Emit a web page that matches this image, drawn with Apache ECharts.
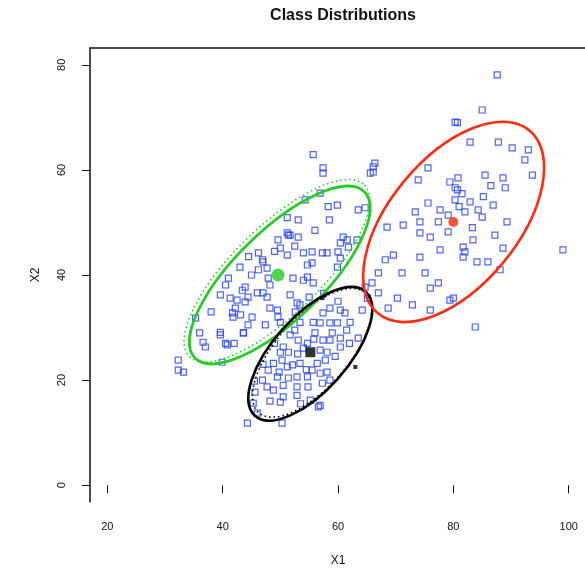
<!DOCTYPE html>
<html>
<head>
<meta charset="utf-8">
<title>Class Distributions</title>
<script src="https://cdn.jsdelivr.net/npm/echarts@6/dist/echarts.min.js"></script>
<style>
html, body { margin: 0; padding: 0; background: #fff; }
#chart { width: 585px; height: 569px; }
</style>
</head>
<body>
<div id="chart"></div>
<script>
// tick labels
var xTicks = [20, 40, 60, 80, 100];
var yTicks = [0, 20, 40, 60, 80];

var ptsGreen = [
  [51.2,48.0],[49.6,46.7],[50.0,45.1],[51.2,43.8],[46.2,44.2],[47.0,42.5],[46.2,41.0],[47.9,39.4],
  [48.2,38.1],[41.0,39.4],[40.5,38.1],[39.6,36.2],[41.3,35.6],[43.4,37.1],[44.4,35.8],[46.0,36.6],
  [43.9,34.9],[42.2,33.7],[41.7,32.8],[43.1,32.4],[45.1,32.0],[47.7,35.8],[48.2,33.7],[49.5,33.3],
  [47.4,30.5],[44.4,30.5],[43.6,29.0],[39.6,29.1],[39.6,28.6],[36.6,27.2],[37.0,26.3],[40.5,27.0],
  [40.8,26.7],[35.3,31.8],[32.3,23.8],[32.3,21.9],[33.2,21.5],[39.9,23.4],[51.4,47.6],
  [55.7,62.9],[57.4,60.4],[66.1,60.6],[56.9,55.6],[54.3,54.3],[58.3,53.0],[59.9,53.3],[63.5,52.4],
  [64.7,52.8],[51.2,50.9],[53.1,50.5],[51.7,47.6],[53.1,47.2],[54.0,44.2],[55.5,44.4],[57.3,44.2],
  [58.1,44.2],[60.4,46.1],[61.6,46.7],[60.0,44.4],[63.3,46.7],[60.9,47.2],[61.8,45.3],[54.7,41.9],
  [55.5,42.3],[46.9,42.9],[47.7,41.3],[52.2,39.4],[54.0,39.0],[54.7,39.6],[59.9,41.5],[60.4,43.2],
  [57.4,59.4],[65.6,59.4],[45.0,40.0],[43.0,41.5],[44.5,43.5],[49.0,44.5],[52.5,45.5],[56.0,48.5],
  [58.5,50.5],[38.0,33.0],[36.0,29.0],[42.0,27.0]
];
var ptsBlack = [
  [61.2,32.8],[60.4,33.3],[58.6,33.7],[57.4,32.8],[56.9,30.9],[55.7,31.0],[53.4,34.3],[52.6,33.0],
  [53.4,31.0],[58.6,30.9],[59.9,30.9],[62.1,31.0],[64.2,33.3],[65.1,35.6],[63.5,28.0],[60.4,28.0],
  [58.6,27.6],[57.4,27.6],[56.9,25.7],[58.1,25.3],[60.4,26.3],[53.1,27.6],[54.7,27.0],[54.0,26.1],
  [51.7,28.6],[50.5,26.3],[51.4,25.3],[50.0,25.3],[50.3,23.8],[48.8,23.2],[51.2,22.5],[52.1,22.9],
  [53.4,23.2],[56.4,23.2],[55.5,21.9],[56.9,21.3],[58.1,21.5],[54.7,20.6],[52.9,20.6],[51.4,20.4],
  [49.5,20.6],[47.9,21.9],[46.9,20.0],[47.7,18.7],[48.8,18.1],[50.5,19.0],[52.9,18.7],[54.8,18.7],
  [57.3,19.4],[58.6,20.0],[50.5,16.8],[50.0,15.8],[52.9,17.1],[55.2,16.2],[56.6,14.9],[45.6,17.7],
  [45.3,15.6],[46.0,13.7],[56.9,15.2],[55.7,38.5],[52.9,34.7],[50.0,31.0],[44.3,11.8],[50.3,11.8],
  [43.6,29.0],[42.5,35.2],[43.9,37.7],[47.0,36.6],[51.7,36.2],[49.6,32.0],[41.8,32.0],[64.7,37.7],
  [65.9,38.5],[53.0,25.0],[55.8,27.8],[57.8,23.8],[49.0,27.0],[52.5,29.5],[56.0,29.0],[59.0,29.0],
  [61.5,29.5],[54.5,22.0],[49.8,21.5],[47.0,23.0],[45.5,19.8],[48.2,16.0],[53.5,15.5],[59.5,24.5],
  [62.0,27.0],[55.0,35.8],[57.5,36.5],[60.0,35.0]
];
var ptsRed = [
  [87.6,78.1],[85.0,71.4],[80.3,69.1],[82.9,65.3],[87.8,65.3],[90.2,64.2],[93.0,63.8],[92.4,61.9],
  [93.7,59.0],[85.5,59.0],[88.6,58.5],[89.0,56.6],[80.3,56.6],[80.3,54.3],[82.9,53.9],[85.2,54.9],
  [86.9,53.3],[84.3,52.4],[85.0,51.0],[89.3,50.1],[83.3,49.0],[83.4,46.7],[87.2,47.6],[88.6,45.1],
  [82.0,44.4],[81.7,43.4],[84.1,42.5],[86.0,42.5],[88.1,41.0],[99.0,44.8],[80.0,35.6],[83.8,30.1],
  [80.7,69.0],[66.1,59.6],[75.6,60.4],[73.9,58.1],[79.4,57.7],[80.7,56.2],[75.6,53.7],[77.7,52.4],
  [73.4,52.0],[74.2,50.1],[79.1,51.4],[71.3,49.5],[68.5,49.1],[77.4,50.1],[74.2,48.0],[76.0,47.2],
  [79.1,48.2],[81.7,45.3],[77.7,44.8],[69.6,43.8],[74.2,43.4],[68.2,42.9],[71.1,40.4],[75.1,40.4],
  [67.0,40.4],[77.4,38.5],[76.0,37.5],[79.4,35.2],[72.9,34.3],[70.3,35.6],[67.0,36.6],[68.7,33.7],
  [76.0,33.3],[66.4,61.3],[81.0,53.0],[82.0,52.0],[81.5,55.5],[80.8,58.5],[86.5,57.0]
];

// class means
var meanGreen = [[49.6, 40.0]];
var meanBlack = [[55.2, 25.3]];
var meanRed = [[80.0, 50.1]];
var extraDots = [[57.3, 35.6], [63.0, 22.5]];

// ellipses: [centre, end of major semi-axis, end of minor semi-axis]
var ellGreen = [[49.9, 40.0], [64.6, 55.8], [55.3, 34.0]];
var ellGreenTrue = [[49.4, 40.8], [64.6, 57.1], [54.7, 34.8]];
var ellBlack = [[55.2, 25.0], [64.8, 36.8], [60.0, 20.3]];
var ellBlackTrue = [[55.5, 25.2], [64.75, 36.6], [60.1, 20.7]];
var ellRed = [[80.05, 50.1], [93.2, 67.5], [88.6, 42.3]];

var font = 'Liberation Sans';
var ink = '#111';
var blue = '#1f3cff';

function pts(data) {
  return {
    type: 'scatter', data: data, symbol: 'rect', symbolSize: 6,
    itemStyle: { color: 'rgba(0,0,0,0)', borderColor: blue, borderWidth: 1.2 },
    silent: true, z: 2
  };
}

// outline drawn as four cubic arcs through the axis scales
function ell(e, color, dotted) {
  return {
    type: 'custom', silent: true, z: dotted ? 3 : 4,
    data: [[e[0][0], e[0][1], e[1][0], e[1][1], e[2][0], e[2][1]]],
    encode: { x: [0, 2, 4], y: [1, 3, 5] },
    renderItem: function (params, api) {
      var c = api.coord([api.value(0), api.value(1)]);
      var a = api.coord([api.value(2), api.value(3)]);
      var b = api.coord([api.value(4), api.value(5)]);
      var u = [a[0] - c[0], a[1] - c[1]], v = [b[0] - c[0], b[1] - c[1]];
      var k = 0.5523;
      function p(su, sv) { return (c[0] + su * u[0] + sv * v[0]).toFixed(2) + ' ' + (c[1] + su * u[1] + sv * v[1]).toFixed(2); }
      var d = 'M' + p(1, 0) +
        ' C' + p(1, k) + ' ' + p(k, 1) + ' ' + p(0, 1) +
        ' C' + p(-k, 1) + ' ' + p(-1, k) + ' ' + p(-1, 0) +
        ' C' + p(-1, -k) + ' ' + p(-k, -1) + ' ' + p(0, -1) +
        ' C' + p(k, -1) + ' ' + p(1, -k) + ' ' + p(1, 0) + ' Z';
      return {
        type: 'path', shape: { pathData: d },
        style: { fill: null, stroke: color, lineWidth: dotted ? 1.6 : 2.6, lineDash: dotted ? [1.5, 3] : null }
      };
    }
  };
}
function mark(data, color, symbol, size) {
  return {
    type: 'scatter', data: data, symbol: symbol, symbolSize: size,
    itemStyle: { color: color }, silent: true, z: 5
  };
}

var chart = echarts.init(document.getElementById('chart'));
chart.setOption({
  animation: false,
  backgroundColor: '#fff',
  title: {
    text: 'Class Distributions', left: 338, top: 3, textAlign: 'center',
    textStyle: { fontFamily: font, fontSize: 16, fontWeight: 'bold', color: ink }
  },
  grid: { left: 90, right: -1, top: 48, bottom: 67, containLabel: false, outerBoundsMode: 'none' },
  xAxis: [{
    type: 'value', min: 17, max: 103, position: 'bottom',
    name: 'X1', nameLocation: 'middle', nameGap: 53,
    nameTextStyle: { fontFamily: font, fontSize: 12, color: ink },
    splitLine: { show: false },
    axisLine: { show: false },
    axisTick: { show: true, length: 8, customValues: xTicks, lineStyle: { color: ink } },
    axisLabel: { customValues: xTicks, margin: 19, fontFamily: font, fontSize: 11, color: ink }
  }, {
    type: 'value', min: 17, max: 103, position: 'top',
    splitLine: { show: false }, axisTick: { show: false }, axisLabel: { show: false },
    axisLine: { show: true, lineStyle: { color: ink, width: 1.5 } }
  }],
  yAxis: {
    type: 'value', min: -3.2, max: 83.2,
    name: 'X2', nameLocation: 'middle', nameGap: 48,
    nameTextStyle: { fontFamily: font, fontSize: 12, color: ink },
    splitLine: { show: false },
    axisLine: { show: true, lineStyle: { color: ink, width: 1.5 } },
    axisTick: { show: true, length: 8, customValues: yTicks, lineStyle: { color: ink } },
    axisLabel: { customValues: yTicks, rotate: 90, margin: 23, fontFamily: font, fontSize: 11, color: ink }
  },
  series: [
    pts(ptsGreen), pts(ptsBlack), pts(ptsRed),
    ell(ellGreenTrue, '#22cc22', true),
    ell(ellBlackTrue, '#000', true),
    ell(ellGreen, '#22cc22', false),
    ell(ellBlack, '#000', false),
    ell(ellRed, '#ff2a10', false),
    mark(meanGreen, '#22cc22', 'circle', 13),
    mark(meanBlack, '#000', 'rect', 10),
    mark(meanRed, '#ff2a10', 'circle', 10),
    mark(extraDots, '#000', 'rect', 4)
  ]
});
</script>
</body>
</html>
